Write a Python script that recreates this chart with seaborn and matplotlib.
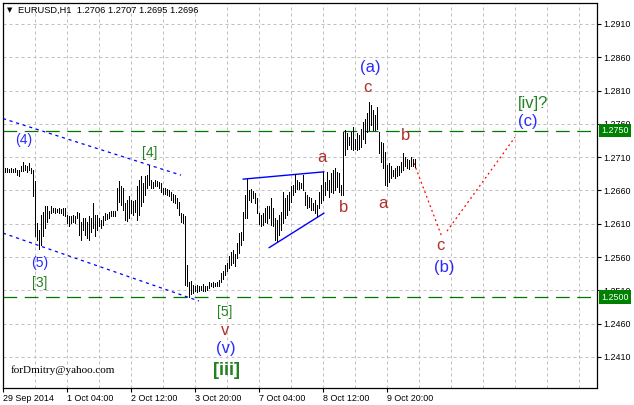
import numpy as np
import pandas as pd
import seaborn as sns
import matplotlib.pyplot as plt
import matplotlib.transforms as mtransforms

# EURUSD H1 bars, index = bar number from the left edge
bar_high = [
    1.2694, 1.2693, 1.2692, 1.2693, 1.2692, 1.2693, 1.2691, 1.2691, 1.2696, 1.2703,
    1.2698, 1.2697, 1.2701, 1.2694, 1.2691, 1.2674, 1.2611, 1.2601, 1.2623, 1.2628,
    1.2636, 1.2636, 1.2629, 1.2636, 1.2634, 1.2633, 1.2632, 1.2633, 1.2632, 1.2633,
    1.2634, 1.2623, 1.2621, 1.2622, 1.2623, 1.2621, 1.2628, 1.2626, 1.2613, 1.2618,
    1.2619, 1.2613, 1.2621, 1.2618, 1.2641, 1.2623, 1.2623, 1.2618, 1.2616, 1.2621,
    1.2626, 1.2624, 1.2627, 1.2629, 1.2629, 1.2629, 1.2663, 1.2674, 1.2666, 1.2663,
    1.2641, 1.2646, 1.2652, 1.2646, 1.2644, 1.2646, 1.2666, 1.2676, 1.2681, 1.2671,
    1.2681, 1.2683, 1.2698, 1.2676, 1.2673, 1.2676, 1.2674, 1.2673, 1.2671, 1.2663,
    1.2663, 1.2662, 1.2661, 1.2658, 1.2654, 1.2653, 1.2648, 1.2643, 1.2626, 1.2624,
    1.2622, 1.2548, 1.2523, 1.2524, 1.2518, 1.2516, 1.2518, 1.2516, 1.2517, 1.2519,
    1.2516, 1.2517, 1.2522, 1.2521, 1.2522, 1.2521, 1.2522, 1.2526, 1.2536, 1.2539,
    1.2548, 1.2551, 1.2561, 1.2567, 1.2571, 1.2564, 1.2581, 1.2596, 1.2598, 1.2628,
    1.2653, 1.2677, 1.2661, 1.2662, 1.2659, 1.2656, 1.2648, 1.2626, 1.2623, 1.2626,
    1.2633, 1.2636, 1.2636, 1.2648, 1.2633, 1.2618, 1.2616, 1.2623, 1.2628, 1.2658,
    1.2648, 1.2653, 1.2658, 1.2666, 1.2668, 1.2684, 1.2676, 1.2672, 1.2671, 1.2683,
    1.2658, 1.2653, 1.2650, 1.2649, 1.2641, 1.2646, 1.2638, 1.2658, 1.2668, 1.2688,
    1.2673, 1.2688, 1.2676, 1.2686, 1.2691, 1.2694, 1.2688, 1.2686, 1.2668, 1.2748,
    1.2751, 1.2746, 1.2741, 1.2748, 1.2756, 1.2738, 1.2746, 1.2743, 1.2753, 1.2763,
    1.2768, 1.2776, 1.2793, 1.2788, 1.2781, 1.2773, 1.2786, 1.2748, 1.2733, 1.2731,
    1.2718, 1.2698, 1.2701, 1.2696, 1.2691, 1.2693, 1.2696, 1.2697, 1.2703, 1.2716,
    1.2711, 1.2708, 1.2706, 1.2711, 1.2708, 1.2707]
bar_low = [
    1.2688, 1.2687, 1.2687, 1.2688, 1.2687, 1.2688, 1.2683, 1.2682, 1.2689, 1.2689,
    1.2691, 1.2688, 1.2691, 1.2686, 1.2652, 1.2591, 1.2586, 1.2572, 1.2578, 1.2591,
    1.2603, 1.2613, 1.2618, 1.2626, 1.2627, 1.2626, 1.2627, 1.2626, 1.2626, 1.2623,
    1.2621, 1.2611, 1.2607, 1.2611, 1.2613, 1.2611, 1.2618, 1.2593, 1.2586, 1.2601,
    1.2593, 1.2588, 1.2586, 1.2598, 1.2603, 1.2591, 1.2601, 1.2606, 1.2603, 1.2608,
    1.2616, 1.2617, 1.2619, 1.2621, 1.2621, 1.2622, 1.2631, 1.2643, 1.2638, 1.2631,
    1.2616, 1.2614, 1.2618, 1.2626, 1.2623, 1.2628, 1.2616, 1.2623, 1.2636, 1.2643,
    1.2653, 1.2663, 1.2668, 1.2663, 1.2663, 1.2666, 1.2666, 1.2663, 1.2658, 1.2654,
    1.2654, 1.2653, 1.2651, 1.2646, 1.2643, 1.2641, 1.2633, 1.2623, 1.2613, 1.2611,
    1.2518, 1.2516, 1.2500, 1.2504, 1.2506, 1.2509, 1.2508, 1.2509, 1.2511, 1.2509,
    1.2509, 1.2511, 1.2514, 1.2516, 1.2515, 1.2516, 1.2517, 1.2517, 1.2523, 1.2527,
    1.2533, 1.2539, 1.2543, 1.2548, 1.2551, 1.2546, 1.2558, 1.2566, 1.2578, 1.2586,
    1.2618, 1.2618, 1.2646, 1.2643, 1.2648, 1.2641, 1.2626, 1.2609, 1.2606, 1.2608,
    1.2613, 1.2611, 1.2618, 1.2608, 1.2606, 1.2586, 1.2584, 1.2593, 1.2601, 1.2611,
    1.2618, 1.2623, 1.2631, 1.2643, 1.2653, 1.2658, 1.2662, 1.2662, 1.2663, 1.2661,
    1.2638, 1.2634, 1.2635, 1.2631, 1.2631, 1.2626, 1.2622, 1.2634, 1.2641, 1.2646,
    1.2653, 1.2661, 1.2650, 1.2658, 1.2656, 1.2661, 1.2665, 1.2658, 1.2653, 1.2653,
    1.2713, 1.2723, 1.2728, 1.2723, 1.2721, 1.2723, 1.2721, 1.2723, 1.2726, 1.2738,
    1.2731, 1.2748, 1.2751, 1.2758, 1.2751, 1.2751, 1.2753, 1.2716, 1.2703, 1.2693,
    1.2668, 1.2666, 1.2673, 1.2678, 1.2681, 1.2678, 1.2681, 1.2683, 1.2688, 1.2691,
    1.2696, 1.2693, 1.2692, 1.2696, 1.2696, 1.2695]

time_tick_bars = [-1, 31, 63, 95, 127, 159, 191]
time_tick_labels = ["29 Sep 2014", "1 Oct 04:00", "2 Oct 12:00", "3 Oct 20:00",
                    "7 Oct 04:00", "8 Oct 12:00", "9 Oct 20:00"]
price_ticks = [1.2410, 1.2460, 1.2510, 1.2560, 1.2610, 1.2660,
               1.2710, 1.2760, 1.2810, 1.2860, 1.2910]
levels = [1.2750, 1.2500]
last_ohlc = ["1.2706", "1.2707", "1.2695", "1.2696"]

# drawn objects (bar index, price)
channel_top = ([-1, 88], [1.2768, 1.2683])
channel_bot = ([-1, 97], [1.2596, 1.2494])
tri_top = ([119, 159.5], [1.2677, 1.2688])
tri_bot = ([132, 159.5], [1.2574, 1.2626])
proj_down = ([204.5, 218.5], [1.2701, 1.2590])
proj_up = ([221, 255], [1.2599, 1.2740])

sns.set_theme(style="white")
plt.rcParams['font.family'] = ['Liberation Sans', 'DejaVu Sans']

fig = plt.figure(figsize=(6.34, 4.05), dpi=100)
ax = fig.add_axes([3/634, 1-388/405, 594/634, 385/405])
ax.set_facecolor('white')

bars = pd.DataFrame({'bar': np.arange(len(bar_high)), 'high': bar_high, 'low': bar_low})

# grid like the terminal: dashed grey every 16 bars and every price tick
for gx in range(15, 300, 16):
    ax.axvline(gx, color='#c0c0c0', lw=0.72, ls=(0, (3, 3)), zorder=0)
for gy in price_ticks:
    ax.axhline(gy, color='#c0c0c0', lw=0.72, ls=(0, (3, 3)), zorder=0)

for lv in levels:
    ax.axhline(lv, color='#007800', lw=0.9, ls=(0, (11, 6)), zorder=1)

ax.vlines(bars['bar'], bars['low'], bars['high'], colors='black', lw=0.55,
          antialiased=False, zorder=3)

for xs, ys in [channel_top, channel_bot]:
    sns.lineplot(x=xs, y=ys, ax=ax, color='#0000ff', lw=0.9, linestyle=(0, (2.5, 3)))
for xs, ys in [tri_top, tri_bot]:
    sns.lineplot(x=xs, y=ys, ax=ax, color='#0000ff', lw=1.0)
for xs, ys in [proj_down, proj_up]:
    sns.lineplot(x=xs, y=ys, ax=ax, color='#ff0000', lw=0.9, linestyle=(0, (1.5, 2.5)))

ax.set_xlim(-1, 296)
ax.set_ylim(1.23634, 1.29415)

ax.yaxis.tick_right()
ax.set_yticks(price_ticks)
ax.set_yticklabels([f"{p:.4f}" for p in price_ticks])
ax.set_xticks(time_tick_bars)
ax.set_xticklabels(time_tick_labels, ha='left')
ax.tick_params(axis='y', direction='out', length=3, width=0.8, pad=1.5,
               labelsize=6.4, colors='black', right=True, left=False)
ax.tick_params(axis='x', direction='out', length=3, width=0.8, pad=1,
               labelsize=6.4, colors='black', bottom=True)
ax.set_xlabel('')
ax.set_ylabel('')
for s in ax.spines.values():
    s.set_color('black')
    s.set_linewidth(0.9)

# price level boxes on the right scale
blend = mtransforms.blended_transform_factory(ax.transAxes, ax.transData)
for lv in levels:
    ax.text(1.0065, lv, f"{lv:.4f}", transform=blend, ha='left', va='center',
            color='white', fontsize=6.4, clip_on=False, zorder=5,
            bbox=dict(boxstyle='square,pad=0.25', fc='#008000', ec='none'))

# header
ax.text(0.0118, 0.982, "▼", transform=ax.transAxes, ha='center', va='center',
        fontsize=5, family='DejaVu Sans', color='black')
ax.text(0.0253, 0.982, "EURUSD,H1  " + " ".join(last_ohlc), transform=ax.transAxes,
        ha='left', va='center', fontsize=6.7, color='black')

# wave marks
blue = '#2b2bff'
red = '#b0302a'
green = '#238023'
marks = [
    ("(4)", 9.5, 1.2736, blue, 10, 'normal'),
    ("(5)", 17.5, 1.2551, blue, 10, 'normal'),
    ("[3]", 17.5, 1.2521, green, 10, 'normal'),
    ("[4]", 72.5, 1.2716, green, 10, 'normal'),
    ("[5]", 110, 1.2478, green, 10, 'normal'),
    ("v", 110, 1.2450, red, 12, 'normal'),
    ("(v)", 110.5, 1.2423, blue, 12, 'normal'),
    ("[iii]", 111, 1.2389, green, 13, 'bold'),
    ("a", 158.5, 1.2710, red, 12, 'normal'),
    ("b", 169.5, 1.2635, red, 12, 'normal'),
    ("(a)", 182.5, 1.2844, blue, 12, 'normal'),
    ("c", 181, 1.2814, red, 12, 'normal'),
    ("b", 200.5, 1.2743, red, 12, 'normal'),
    ("a", 189, 1.2641, red, 12, 'normal'),
    ("c", 217.5, 1.2578, red, 12, 'normal'),
    ("(b)", 219.5, 1.2544, blue, 12, 'normal'),
    ("(c)", 261.5, 1.2763, blue, 12, 'normal'),
    ("[iv]?", 264, 1.2791, green, 12, 'normal'),
]
for txt, bx, py, col, fs, fw in marks:
    ax.text(bx, py, txt, ha='center', va='center', color=col, fontsize=fs,
            fontweight=fw, zorder=6)

ax.text(3, 1.2390, "forDmitry@yahoo.com", ha='left', va='center', fontsize=8,
        family='Liberation Serif', color='black')

fig.savefig('out.png', dpi=100, facecolor='white')
